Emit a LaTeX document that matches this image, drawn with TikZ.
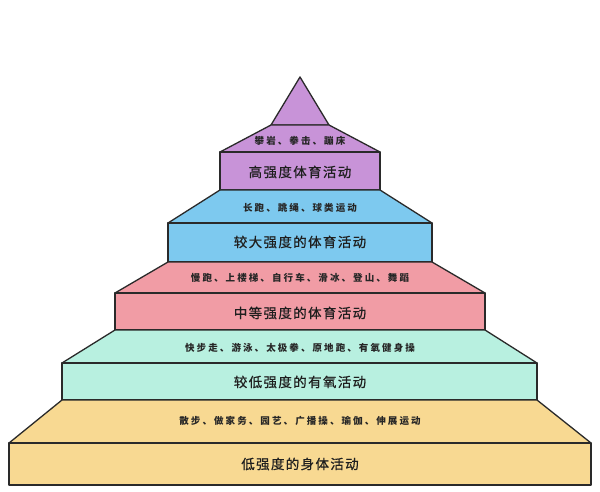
\documentclass[tikz,border=0pt]{standalone}
\usepackage{fontspec}
\newfontfamily\cjktop[LetterSpace=22]{Noto Sans CJK SC}
\newfontfamily\cjkmain[LetterSpace=10,FakeBold=0.7]{Noto Sans CJK SC}
\definecolor{lvA}{HTML}{C893D8}
\definecolor{lvB}{HTML}{7DC9EF}
\definecolor{lvC}{HTML}{F19CA5}
\definecolor{lvD}{HTML}{B8F0E0}
\definecolor{lvE}{HTML}{F8D992}
\definecolor{edge}{HTML}{2A2A2A}
\tikzset{
  block/.style={draw=edge, line width=1.3pt, line join=round},
  toplabel/.style={font=\cjktop\fontsize{9.5}{10}\selectfont\bfseries, text=black!85, inner sep=0pt},
  mainlabel/.style={font=\cjkmain\fontsize{13.5}{14}\selectfont, text=black!88, inner sep=0pt},
}
\begin{document}
\begin{tikzpicture}[x=1pt,y=-1pt]
\useasboundingbox (0,0) rectangle (600,492);
\fill[white] (0,0) rectangle (600,492);
% apex
\draw[block, fill=lvA] (300,77) -- (329,125) -- (271,125) -- cycle;
% level 1
\draw[block, fill=lvA] (271,125) -- (329,125) -- (380,152) -- (220,152) -- cycle;
\draw[block, fill=lvA] (220,152) rectangle (380,190);
\node[toplabel] (t1) at (300,141) {攀岩、拳击、蹦床};
\node[mainlabel] (m1) at (300,172) {高强度体育活动};
% level 2
\draw[block, fill=lvB] (220,190) -- (380,190) -- (432,223) -- (168,223) -- cycle;
\draw[block, fill=lvB] (168,223) rectangle (432,262);
\node[toplabel] (t2) at (300,208) {长跑、跳绳、球类运动};
\node[mainlabel] (m2) at (300,242) {较大强度的体育活动};
% level 3
\draw[block, fill=lvC] (168,262) -- (432,262) -- (485,293) -- (115,293) -- cycle;
\draw[block, fill=lvC] (115,293) rectangle (485,330);
\node[toplabel] (t3) at (300,278) {慢跑、上楼梯、自行车、滑冰、登山、舞蹈};
\node[mainlabel] (m3) at (300,313) {中等强度的体育活动};
% level 4
\draw[block, fill=lvD] (115,330) -- (485,330) -- (537,363) -- (62,363) -- cycle;
\draw[block, fill=lvD] (62,363) rectangle (537,400);
\node[toplabel] (t4) at (300,348) {快步走、游泳、太极拳、原地跑、有氧健身操};
\node[mainlabel] (m4) at (300,382) {较低强度的有氧活动};
% level 5
\draw[block, fill=lvE] (62,400) -- (537,400) -- (591,443) -- (9,443) -- cycle;
\draw[block, fill=lvE] (9,443) rectangle (591,485);
\node[toplabel] (t5) at (300,421) {散步、做家务、园艺、广播操、瑜伽、伸展运动};
\node[mainlabel] (m5) at (300,464) {低强度的身体活动};
\end{tikzpicture}
\end{document}
